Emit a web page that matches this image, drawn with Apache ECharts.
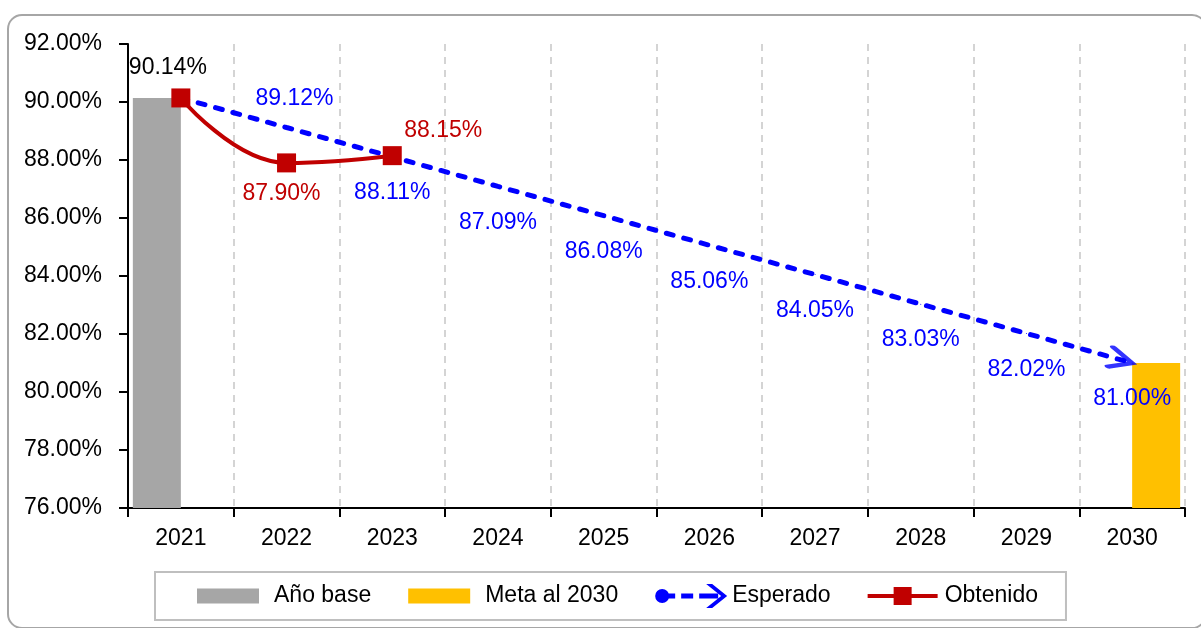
<!DOCTYPE html>
<html>
<head>
<meta charset="utf-8">
<script src="https://cdn.jsdelivr.net/npm/echarts@6/dist/echarts.min.js"></script>
<style>
  html, body { margin: 0; padding: 0; background: #fff; }
  #chart { width: 1201px; height: 628px; }
</style>
</head>
<body>
<div id="chart"></div>
<script>
const years = ['2021', '2022', '2023', '2024', '2025', '2026', '2027', '2028', '2029', '2030']
const anoBase = [90.14, null, null, null, null, null, null, null, null, null]
const meta2030 = [null, null, null, null, null, null, null, null, null, 81.00]
const esperado = [90.14, 89.12, 88.11, 87.09, 86.08, 85.06, 84.05, 83.03, 82.02, 81.00]
const obtenido = [90.14, 87.90, 88.15, null, null, null, null, null, null, null]
const yMin = 76
const yMax = 92
const yStep = 2

const FONT = 'Liberation Sans, Arial, sans-serif'
const BLUE = '#0000ff'
const RED = '#c00000'
const pct = (v) => v.toFixed(2) + '%'

// legend icons (72 x 26 box)
const BOX = 'M0,0M72,26'
const iconBar = 'path://' + BOX + 'M0,5.5L62,5.5L62,20.5L0,20.5Z'
const iconEsperado = 'path://' + BOX +
  'M0,13A7,7 0 1 1 14,13A7,7 0 1 1 0,13Z' +
  'M13,10.5L20,10.5L20,15.5L13,15.5Z' +
  'M26,10.5L38,10.5L38,15.5L26,15.5Z' +
  'M44,10.5L63,10.5L63,15.5L44,15.5Z' +
  'M51,1L57,1L72,13L57,25L51,25L66,13Z'
const iconObtenido = 'path://' + BOX + 'M0,11L70,11L70,15L0,15ZM26,4L44,4L44,22L26,22Z'

// esperado labels: 2021 has none, 2022 above, rest below
const esperadoData = esperado.map((v, i) => {
  if (i === 0) return { value: v, label: { show: false } }
  if (i === 1) return { value: v, label: { position: 'top', distance: 17, offset: [8, 0] } }
  return { value: v }
})

const obtenidoData = obtenido.map((v, i) => {
  if (v === null) return null
  if (i === 0) return { value: v, label: { show: false } }
  if (i === 1) return { value: v, label: { position: 'bottom', distance: 10, offset: [-5, 0] } }
  return { value: v, label: { position: 'top', distance: 4, offset: [51, 0] } }
})

// arrow head at the last esperado point
const flecha = esperado.map((v, i) => (i === esperado.length - 1 ? v : null))

const chart = echarts.init(document.getElementById('chart'))
chart.setOption({
  animation: false,
  backgroundColor: '#fff',
  textStyle: { fontFamily: FONT },
  graphic: [
    {
      type: 'rect',
      shape: { x: 8, y: 15, width: 1198, height: 613, r: 14 },
      style: { fill: 'none', stroke: '#a6a6a6', lineWidth: 2 },
      silent: true,
      z: -1
    }
  ],
  grid: {
    left: 128,
    right: 16,
    top: 44,
    bottom: 120,
    containLabel: false,
    outerBoundsMode: 'none'
  },
  legend: {
    left: 155,
    top: 572,
    orient: 'horizontal',
    padding: [11, 28, 11, 42],
    itemGap: 37,
    itemWidth: 72,
    itemHeight: 26,
    borderColor: '#bfbfbf',
    borderWidth: 2,
    selectedMode: false,
    textStyle: { fontSize: 23, color: '#000', fontFamily: FONT },
    data: [
      { name: 'Año base', icon: iconBar },
      { name: 'Meta al 2030', icon: iconBar },
      { name: 'Esperado', icon: iconEsperado },
      { name: 'Obtenido', icon: iconObtenido }
    ]
  },
  xAxis: {
    type: 'category',
    data: years,
    boundaryGap: true,
    axisLine: { lineStyle: { color: '#000', width: 2 } },
    axisTick: { show: true, length: 9, interval: 0, lineStyle: { color: '#000', width: 2 } },
    axisLabel: { fontSize: 23, color: '#000', margin: 19, interval: 0, fontFamily: FONT },
    splitLine: {
      show: true,
      interval: 0,
      lineStyle: { color: '#d4d4d4', width: 2, type: [7, 6] }
    }
  },
  yAxis: {
    type: 'value',
    min: yMin,
    max: yMax,
    interval: yStep,
    axisLine: { show: true, lineStyle: { color: '#000', width: 2 } },
    axisTick: { show: true, length: 9, lineStyle: { color: '#000', width: 2 } },
    axisLabel: { fontSize: 23, color: '#000', margin: 26, fontFamily: FONT, formatter: (v) => pct(v) },
    splitLine: { show: false }
  },
  series: [
    {
      name: 'Año base',
      type: 'bar',
      data: anoBase,
      barWidth: 48,
      barGap: '0%',
      clip: true,
      itemStyle: { color: '#a6a6a6' },
      label: {
        show: true,
        position: 'top',
        distance: 19,
        offset: [11, 0],
        fontSize: 23,
        color: '#000',
        fontFamily: FONT,
        formatter: (p) => pct(p.value)
      },
      z: 1
    },
    {
      name: 'Meta al 2030',
      type: 'bar',
      data: meta2030,
      barWidth: 48,
      barGap: '0%',
      clip: true,
      itemStyle: { color: '#ffc000' },
      z: 1
    },
    {
      name: 'Esperado',
      type: 'line',
      data: esperadoData,
      symbol: 'circle',
      symbolSize: 1,
      showSymbol: true,
      itemStyle: { color: BLUE, borderWidth: 0 },
      lineStyle: { color: BLUE, width: 5, type: [7, 11], cap: 'round' },
      label: {
        show: true,
        position: 'bottom',
        distance: 24,
        fontSize: 23,
        color: BLUE,
        fontFamily: FONT,
        formatter: (p) => pct(p.value)
      },
      z: 3
    },
    {
      name: 'flecha',
      type: 'scatter',
      data: flecha,
      symbol: 'path://M0,0L22,10L0,20M44,10',
      symbolSize: [44, 20],
      symbolRotate: -15.6,
      itemStyle: { color: 'rgba(0,0,0,0)', borderColor: BLUE, borderWidth: 5, borderCap: 'round' },
      silent: true,
      z: 3
    },
    {
      name: 'Obtenido',
      type: 'line',
      data: obtenidoData,
      smooth: 0.45,
      symbol: 'rect',
      symbolSize: 19,
      showSymbol: true,
      itemStyle: { color: RED, borderWidth: 0 },
      lineStyle: { color: RED, width: 4 },
      label: {
        show: true,
        fontSize: 23,
        color: RED,
        fontFamily: FONT,
        formatter: (p) => pct(p.value)
      },
      z: 4
    }
  ]
})
</script>
</body>
</html>
